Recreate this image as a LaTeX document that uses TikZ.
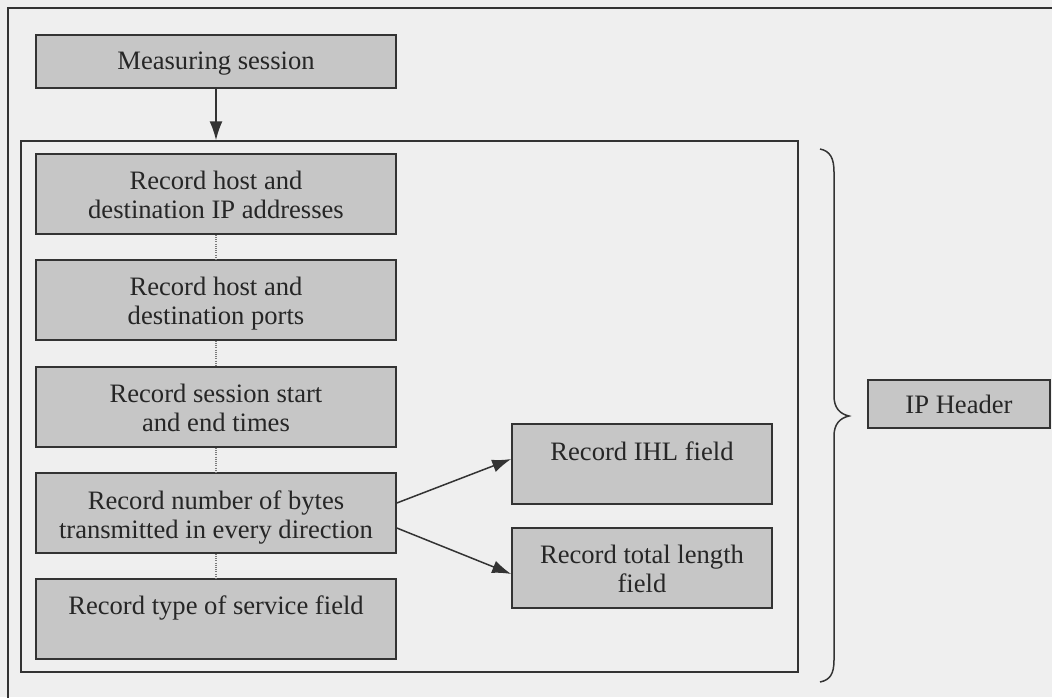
\documentclass[tikz,border=0pt]{standalone}
\usepackage{fontspec}
\setmainfont{Liberation Serif}
\usetikzlibrary{arrows.meta}

\definecolor{paper}{HTML}{EFEFEF}
\definecolor{boxfill}{HTML}{C6C6C6}
\definecolor{ink}{HTML}{333333}
\definecolor{txt}{HTML}{262626}

\tikzset{
  every picture/.style={x=1pt,y=-1pt},
  stepbox/.style={draw=ink, fill=boxfill, line width=1.6pt, rectangle,
    inner sep=0pt, minimum width=#1},
  stepbox/.default=360pt,
  lbl/.style={inner sep=0pt, align=center, text=txt, anchor=north,
    font=\fontsize{26.6}{29}\selectfont},
  frameline/.style={draw=ink, line width=1.5pt},
  flow/.style={draw=ink, line width=1.5pt, -{Latex[length=19pt,width=13pt]}},
  link/.style={draw=ink!65, line width=1.1pt, dash pattern=on 1pt off 1.2pt},
}

\begin{document}
\begin{tikzpicture}
  % canvas and outer frame (only its left and top edges fall inside)
  \clip (0,0) rectangle (1052,697);
  \fill[paper] (0,0) rectangle (1052,697);
  \draw[frameline] (8,8) rectangle (1060,710);

  % inner frame grouping the recording steps
  \node[frameline, rectangle, inner sep=0pt, minimum width=777pt, minimum height=531pt]
    (grp) at (409.5,406.5) {};

  % steps
  \node[stepbox, minimum height=53pt] (ms) at (216,61.5) {};
  \node[stepbox, minimum height=80pt] (b1) at (216,194) {};
  \node[stepbox, minimum height=80pt] (b2) at (216,300) {};
  \node[stepbox, minimum height=80pt] (b3) at (216,407) {};
  \node[stepbox, minimum height=80pt] (b4) at (216,513) {};
  \node[stepbox, minimum height=80pt] (b5) at (216,619) {};
  \node[stepbox=260pt, minimum height=80pt] (ihl) at (642,464) {};
  \node[stepbox=260pt, minimum height=80pt] (tl) at (642,568) {};
  \node[stepbox=182pt, minimum height=48pt] (ip) at (959,404) {};

  % labels, set from the top of each box
  \node[lbl] at ([yshift=-17pt]ms.north) {Measuring session};
  \node[lbl] at ([yshift=-18pt]b1.north) {Record host and\\destination IP addresses};
  \node[lbl] at ([yshift=-18pt]b2.north) {Record host and\\destination ports};
  \node[lbl] at ([yshift=-18pt]b3.north) {Record session start\\and end times};
  \node[lbl] at ([yshift=-18pt]b4.north) {Record number of bytes\\transmitted in every direction};
  \node[lbl] at ([yshift=-17pt]b5.north) {Record type of service field};
  \node[lbl] at ([yshift=-18pt]ihl.north) {Record IHL field};
  \node[lbl] at ([yshift=-18pt]tl.north) {Record total length\\field};
  \node[lbl] at ([yshift=-16pt]ip.north) {IP Header};

  % connectors
  \draw[flow] (ms.south) -- (ms.south |- grp.north);
  \draw[link] (b1.south) -- (b2.north);
  \draw[link] (b2.south) -- (b3.north);
  \draw[link] (b3.south) -- (b4.north);
  \draw[link] (b4.south) -- (b5.north);
  \coordinate (o1) at ([yshift=10pt]b4.east);
  \coordinate (o2) at ([yshift=-15pt]b4.east);
  \draw[flow] (o1) -- ([yshift=5pt]ihl.west);
  \draw[flow] (o2) -- ([yshift=-6pt]tl.west);

  % brace spanning the grouped steps
  \draw[ink, line width=1.5pt]
    (820,149) .. controls (830,151) and (834,158) .. (834,172)
    -- (834,396) .. controls (834,408) and (840,414) .. (849,416)
    .. controls (840,418) and (834,424) .. (834,436)
    -- (834,660) .. controls (834,674) and (830,680) .. (820,682);
\end{tikzpicture}
\end{document}
